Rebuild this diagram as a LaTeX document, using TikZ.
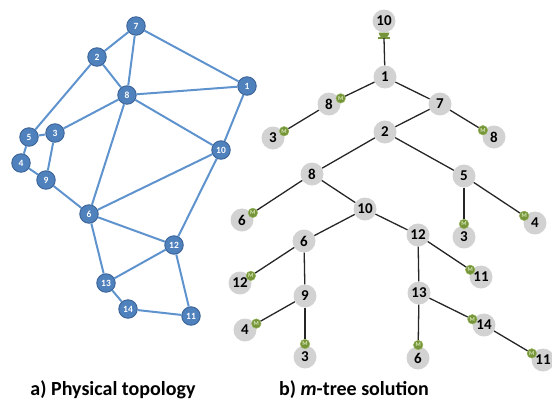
\documentclass[tikz,border=0pt]{standalone}
\usepackage{fontspec}
\setmainfont{Carlito}
\usetikzlibrary{calc}
\definecolor{bfill}{RGB}{79,129,189}
\definecolor{bdraw}{RGB}{58,98,150}
\definecolor{bedge}{RGB}{95,147,206}
\definecolor{gfill}{RGB}{210,210,210}
\definecolor{mfill}{RGB}{118,148,58}
\definecolor{mdraw}{RGB}{150,180,90}
\definecolor{mtext}{RGB}{215,232,180}
\tikzset{
  bnode/.style={circle,fill=bfill,draw=bdraw,line width=0.9pt,minimum size=18.5pt,inner sep=0pt,text=white,font=\fontsize{9.5}{9.5}\selectfont\bfseries},
  bedge/.style={draw=bedge,line width=2pt},
  gnode/.style={circle,fill=gfill,minimum size=23pt,inner sep=0pt,font=\fontsize{15}{15}\selectfont\bfseries},
  tedge/.style={draw=black!85,line width=1.3pt},
  mk/.style={circle,fill=mfill,draw=mdraw,line width=0.5pt,minimum size=9.5pt,inner sep=0pt,text=mtext,font=\fontsize{6}{6}\selectfont\bfseries},
  captext/.style={font=\fontsize{20}{20}\selectfont\bfseries}
}
\newcommand\medge[2]{\node[mk] (m#2) at ($(#2)!13pt!(#1)$) {M};\draw[tedge] (#1) -- (m#2);}
\newcommand\pedge[2]{\draw[tedge] (#1) -- (#2);}
\begin{document}
\begin{tikzpicture}[x=1pt,y=-1pt]
\useasboundingbox (0,0) rectangle (552,402);
% ---- left graph
\foreach \n/\x/\y in {7/136/26,2/97/57,1/247/86,8/127/95,5/29/137,3/55/133,4/21/163,9/46/180,10/221/150,6/89/214,12/174/245,13/106/283,14/128/309,11/191/316}
  \node[bnode] (b\n) at (\x,\y) {\n};
\foreach \a/\b in {7/2,7/8,7/1,2/8,2/5,8/1,8/3,8/10,8/6,1/10,5/3,5/4,3/9,4/9,9/6,10/6,10/12,6/12,6/13,12/13,12/11,13/14,14/11}
  \draw[bedge] (b\a) -- (b\b);
% ---- right tree
\foreach \n/\l/\x/\y in {t10/10/384/21,t1/1/385/77,t8a/8/329/104,t3a/3/273/138,t7/7/440/104,t8b/8/494/137,t2/2/385/132,t8c/8/312/174,t5/5/464/176,t6a/6/242/220,t10b/10/365/209,t3b/3/464/237,t4a/4/535/223,t6b/6/304/241,t12a/12/418/235,t12b/12/240/283,t11a/11/481/277,t9/9/305/296,t13/13/419/293,t4b/4/245/330,t14/14/484/325,t3c/3/305/357,t6c/6/418/358,t11b/11/543/360}
  \node[gnode] (\n) at (\x,\y) {\l};
% terminal symbol under top node
\coordinate (term) at (384,38);
\fill[mfill] (378.5,32.5) arc[start angle=180,end angle=360,radius=5.5pt] -- cycle;
\draw[mfill,line width=1.5pt] (378,38) -- (390,38);
\draw[tedge] (term) -- (t1);
\pedge{t1}{t7}
\pedge{t7}{t2}
\pedge{t2}{t8c}
\pedge{t2}{t5}
\pedge{t8c}{t10b}
\pedge{t10b}{t6b}
\pedge{t10b}{t12a}
\pedge{t6b}{t9}
\pedge{t12a}{t13}
\medge{t1}{t8a}
\medge{t8a}{t3a}
\medge{t7}{t8b}
\medge{t8c}{t6a}
\medge{t5}{t3b}
\medge{t5}{t4a}
\medge{t6b}{t12b}
\medge{t12a}{t11a}
\medge{t9}{t4b}
\medge{t9}{t3c}
\medge{t13}{t6c}
\medge{t13}{t14}
\medge{t14}{t11b}
% captions
\node[captext] (capa) at (113,390) {a) Physical topology};
\node[captext] (capb) at (354,390) {b) \textit{m}-tree solution};
\end{tikzpicture}
\end{document}
